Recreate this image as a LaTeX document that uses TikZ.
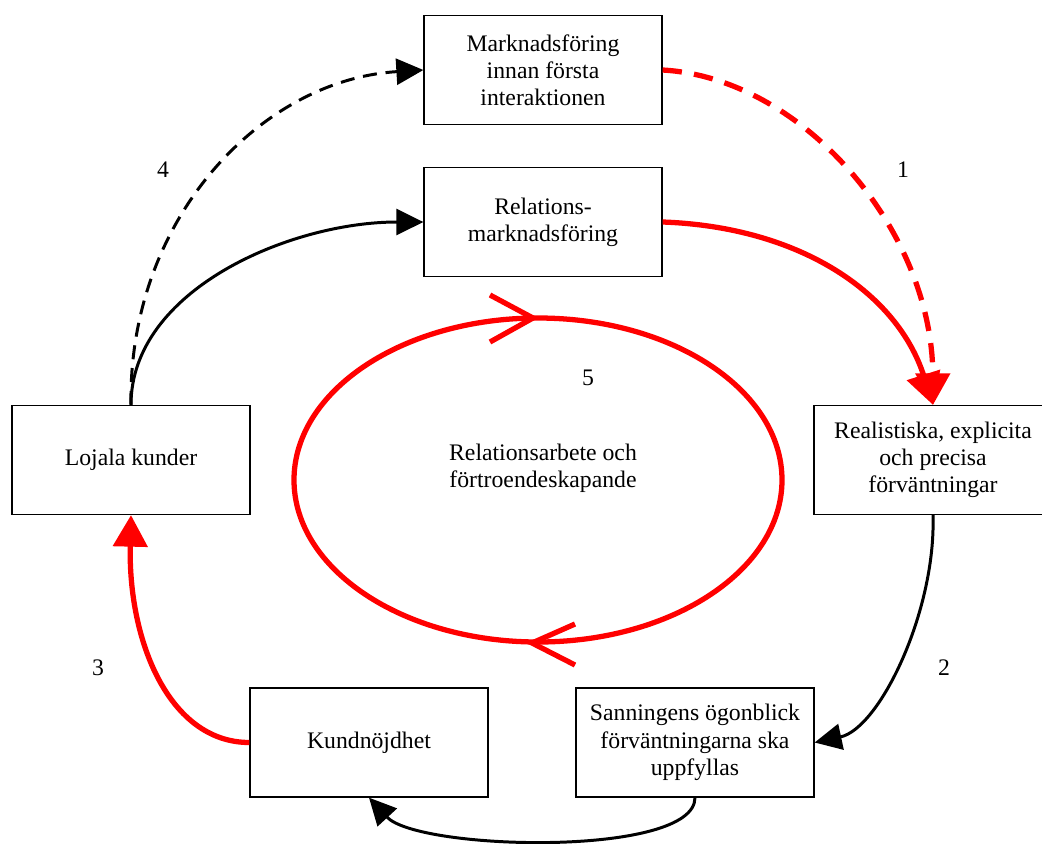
\documentclass[tikz,border=0pt]{standalone}
\usepackage{fontspec}
\setmainfont{Liberation Serif}
\usetikzlibrary{arrows.meta, calc}

\begin{document}
\begin{tikzpicture}[x=0.02cm, y=-0.02cm, >={Triangle[length=5.4mm,width=5.2mm]},
  every node/.style={font=\fontsize{13.5pt}{15.5pt}\selectfont},
  box/.style={draw, line width=0.75pt, minimum width=4.76cm, minimum height=2.18cm, align=center, inner sep=2pt},
  blk/.style={line width=1.7pt},
  rd/.style={red, line width=3pt},
  redtip/.style={-{Triangle[length=6.3mm,width=6.8mm]}}]
  \useasboundingbox (0,0) rectangle (1042,843);
  % boxes
  \node[box] (first) at (543,70) {Marknadsföring\\innan första\\interaktionen};
  \node[box] (relmark) at (543,222) {Relations-\\marknadsföring};
  \node[box] (expect) at (933,460) {Realistiska, explicita\\och precisa\\förväntningar};
  \node[box] (loyal) at (131,460) {Lojala kunder};
  \node[box] (truth) at (695,742.5) {Sanningens ögonblick\\förväntningarna ska\\uppfyllas};
  \node[box] (satisf) at (369,742.5) {Kundnöjdhet};
  % inner loop
  \draw[rd] (538,480) ellipse (244 and 162);
  \coordinate (looptop) at (533,318);
  \coordinate (loopbot) at (532,643);
  \draw[rd] (490,295) -- (looptop) -- (490,342);
  \draw[rd] (575,624) -- (loopbot) -- (575,665);
  \node[align=center] (work) at (543,468) {Relationsarbete och\\förtroendeskapande};
  % step numbers
  \node (n1) at (903,170) {1};
  \node (n2) at (944,668) {2};
  \node (n3) at (98,668) {3};
  \node (n4) at (163,170) {4};
  \node (n5) at (588,378) {5};
  % outer cycle
  \draw[rd, redtip, dash pattern=on 11pt off 7pt] (first.east) .. controls +(140,8) and +(-1,-175) .. (expect.north);
  \draw[rd, redtip] (relmark.east) .. controls +(140,5) and +(-35,-110) .. (expect.north);
  \draw[blk, ->] (expect.south) .. controls +(3,96) and +(65,-14) .. (truth.east);
  \draw[blk, ->] (truth.south) .. controls +(0,60) and +(49,53) .. (satisf.south);
  \draw[rd, redtip] (satisf.west) .. controls +(-80,0) and +(-3,126) .. (loyal.south);
  \draw[blk, ->] (loyal.north) .. controls +(0,-115) and +(-133,0) .. (relmark.west);
  \draw[blk, ->, dash pattern=on 8pt off 5pt] (loyal.north) .. controls +(-3,-185) and +(-163,10) .. (first.west);
\end{tikzpicture}
\end{document}
